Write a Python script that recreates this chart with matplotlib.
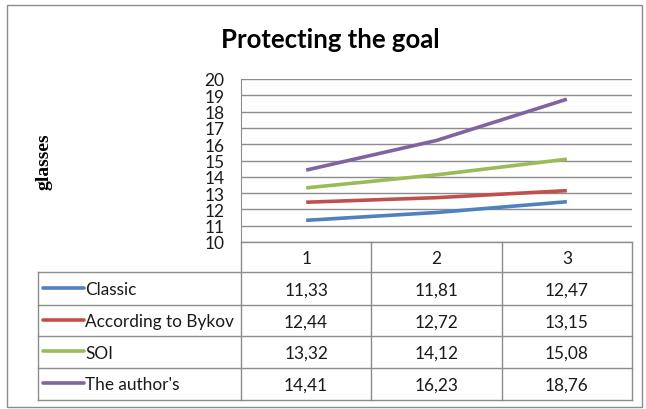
import matplotlib
matplotlib.use("Agg")
import matplotlib.pyplot as plt
from matplotlib.patches import Rectangle

plt.rcParams['font.family'] = ['Lato', 'DejaVu Sans']

title = "Protecting the goal"
ylabel = "glasses"
categories = [1, 2, 3]
series_names = ["Classic", "According to Bykov", "SOI", "The author's"]
classic = [11.33, 11.81, 12.47]
bykov = [12.44, 12.72, 13.15]
soi = [13.32, 14.12, 15.08]
author = [14.41, 16.23, 18.76]
series_values = [classic, bykov, soi, author]
colors = ["#4F81BD", "#C0504D", "#9BBB59", "#8064A2"]
yticks = list(range(10, 21))

W, H = 646, 410
fig = plt.figure(figsize=(W / 100, H / 100), dpi=100)

def px(x0, y0, x1, y1):
    return [x0 / W, 1 - y1 / H, (x1 - x0) / W, (y1 - y0) / H]

TXT = "#1a1a1a"
FS = 12.4

# overlay for border, table
bg = fig.add_axes([0, 0, 1, 1])
bg.set_xlim(0, W)
bg.set_ylim(H, 0)
bg.axis('off')
bg.add_patch(Rectangle((7, 6), 635, 402, fill=False, ec="#8c8c8c", lw=1.0))

# plot area
x_left, x_right, y_top, y_bot = 241, 632, 80, 243
ax = fig.add_axes(px(x_left, y_top, x_right, y_bot))
ax.set_xlim(0.5, len(categories) + 0.5)
ax.set_ylim(10, 20)
ax.set_yticks(yticks)
ax.set_yticklabels([str(t) for t in yticks], fontsize=12.5, color=TXT)
ax.set_xticks([])
ax.tick_params(axis='y', length=0, pad=12)
for s in ['top', 'right', 'bottom']:
    ax.spines[s].set_visible(False)
ax.spines['left'].set_color("#8c8c8c")
ax.yaxis.grid(True, color="#8c8c8c", lw=1.0)
ax.set_axisbelow(True)
ax.patch.set_alpha(0)
for vals, c in zip(series_values, colors):
    ax.plot(categories, vals, color=c, lw=2.6, solid_capstyle='butt')

fig.text(330 / W, 1 - 40 / H, title, ha='center', va='center', fontsize=18.5, fontweight='bold')
fig.text(44 / W, 1 - 162 / H, ylabel, ha='center', va='center', rotation=90,
         fontsize=14, fontweight='bold', family=['Liberation Serif', 'DejaVu Serif'])

# table
col_edges = [x_left + (x_right - x_left) * i / len(categories) for i in range(len(categories) + 1)]
row_edges = [243, 273, 305.5, 337, 368.5, 400.5]
tab_left = 38
gc = "#8c8c8c"
lw = 1.0
bg.plot([x_left, x_right], [row_edges[0]] * 2, color=gc, lw=lw)
for x in col_edges:
    bg.plot([x, x], [row_edges[0], row_edges[-1]], color=gc, lw=lw)
for y in row_edges[1:]:
    bg.plot([tab_left, x_right], [y, y], color=gc, lw=lw)
bg.plot([tab_left, tab_left], [row_edges[1], row_edges[-1]], color=gc, lw=lw)
for j, cat in enumerate(categories):
    bg.text((col_edges[j] + col_edges[j + 1]) / 2, (row_edges[0] + row_edges[1]) / 2 + 1,
            str(cat), ha='center', va='center', fontsize=FS, color=TXT)
for i, (name, vals, c) in enumerate(zip(series_names, series_values, colors)):
    yc = (row_edges[i + 1] + row_edges[i + 2]) / 2 + 1
    bg.plot([43, 84], [yc - 1.5, yc - 1.5], color=c, lw=2.6, solid_capstyle='round')
    bg.text(85, yc, name, ha='left', va='center', fontsize=FS, color=TXT)
    for j, v in enumerate(vals):
        bg.text((col_edges[j] + col_edges[j + 1]) / 2, yc,
                f"{v:.2f}".replace('.', ','), ha='center', va='center', fontsize=FS, color=TXT)

fig.savefig("out.png", dpi=100)
